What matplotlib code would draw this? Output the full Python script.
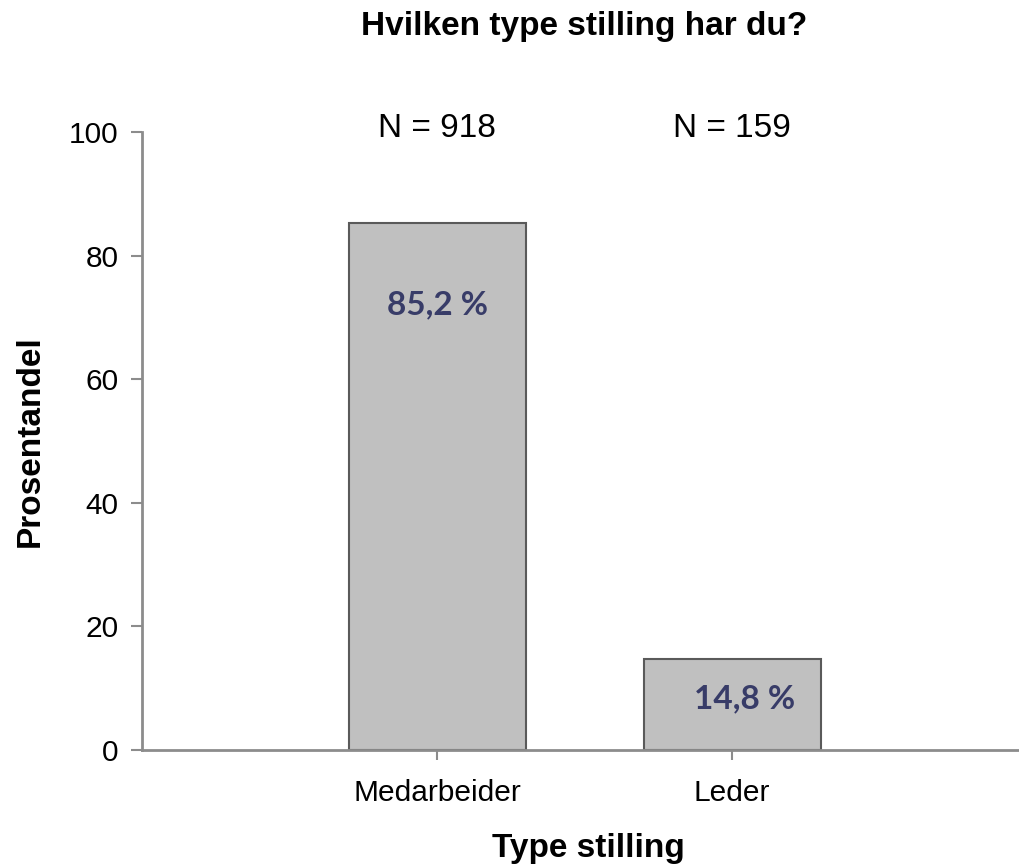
import matplotlib.pyplot as plt

categories = ["Medarbeider", "Leder"]
percent = [85.2, 14.8]
n_labels = ["N = 918", "N = 159"]
pct_labels = ["85,2 %", "14,8 %"]

plt.rcParams["font.family"] = ["Liberation Sans", "DejaVu Sans"]

fig = plt.figure(figsize=(10.2, 8.68), dpi=100)
ax = fig.add_axes([142 / 1020, 1 - 750 / 868, 1 - 142 / 1020, (750 - 132) / 868])

x = list(range(len(categories)))
ax.bar(x, percent, width=0.6, color="#c0c0c0", edgecolor="#5a5a5a", linewidth=1.5, zorder=2)

ax.set_xlim(-1.0, 1.976)
ax.set_ylim(0, 100)
ax.set_yticks([0, 20, 40, 60, 80, 100])
ax.set_xticks(x)
ax.set_xticklabels(categories)

for s in ["top", "right"]:
    ax.spines[s].set_visible(False)
for s in ["left", "bottom"]:
    ax.spines[s].set_color("#8c8c8c")
    ax.spines[s].set_linewidth(2)

ax.tick_params(axis="y", length=8, width=1.5, color="#8c8c8c", pad=9, labelsize=21.5)
ax.tick_params(axis="x", length=7, width=1.5, color="#8c8c8c", pad=14, labelsize=21.5)

# N over each column
for xi, lab in zip(x, n_labels):
    ax.text(xi, 100.6, lab, ha="center", va="center", fontsize=24, clip_on=False)

# percent labels inside bars
ax.text(0, 72.0, pct_labels[0], ha="center", va="center", fontsize=24,
        fontweight="bold", color="#383c68", family=["Lato", "DejaVu Sans"], zorder=3)
ax.text(1.044, 8.3, pct_labels[1], ha="center", va="center", fontsize=24,
        fontweight="bold", color="#383c68", family=["Lato", "DejaVu Sans"], zorder=3)

fig.text(584 / 1020, 1 - 26 / 868, "Hvilken type stilling har du?", ha="center",
         va="center", fontsize=24, fontweight="bold")
fig.text(588 / 1020, 1 - 848 / 868, "Type stilling", ha="center", va="center",
         fontsize=24, fontweight="bold")
fig.text(30 / 1020, 1 - 441 / 868, "Prosentandel", ha="center", va="center",
         fontsize=24, fontweight="bold", rotation=90)

fig.savefig("out.png", dpi=100)
